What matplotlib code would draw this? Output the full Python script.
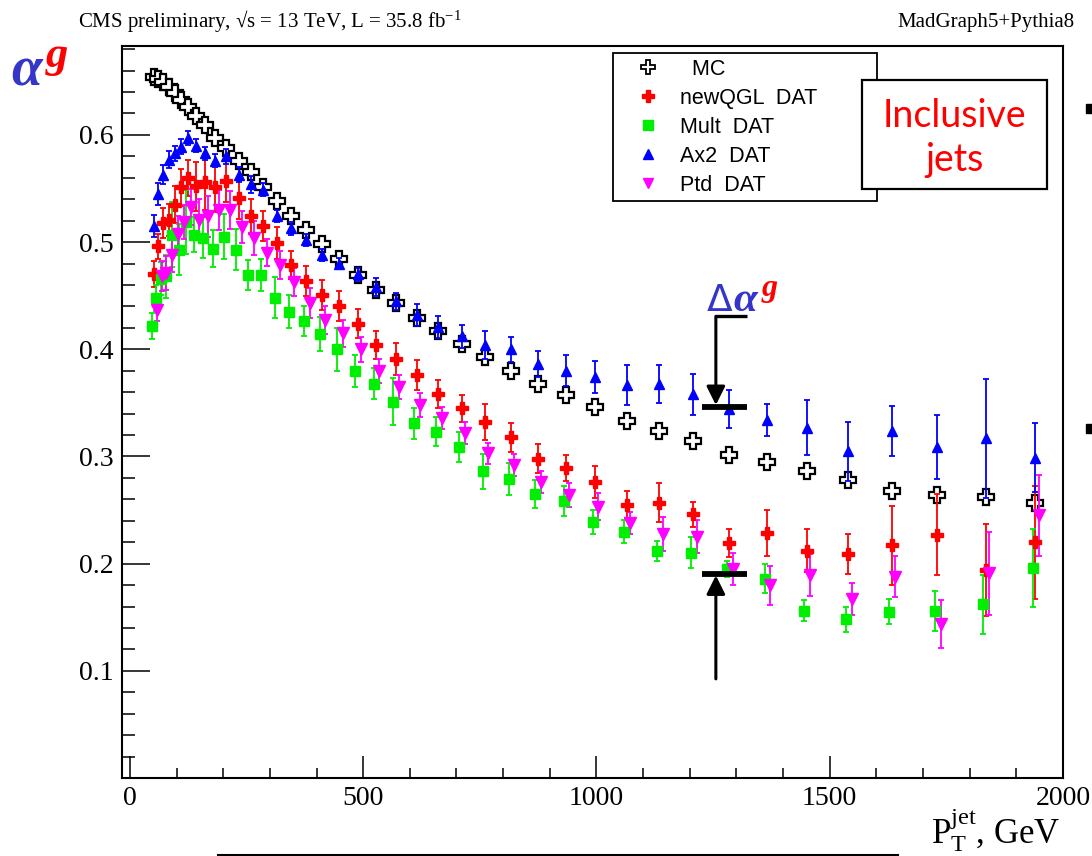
import numpy as np
import matplotlib.pyplot as plt
from matplotlib.ticker import MultipleLocator
from matplotlib.lines import Line2D
from matplotlib.patches import Rectangle

plt.rcParams['mathtext.fontset'] = 'custom'
plt.rcParams['mathtext.rm'] = 'Liberation Serif'
plt.rcParams['mathtext.it'] = 'Liberation Serif:italic'
plt.rcParams['mathtext.bf'] = 'Liberation Serif:bold'

# jet pT bin centres, GeV
pt = np.array([52, 61, 71, 83, 96, 110, 125, 142, 161, 183, 207, 233, 259, 286,
               315, 345, 378, 412, 449, 488, 528, 570, 615, 661, 711, 761, 817,
               874, 935, 997, 1065, 1135, 1208, 1285, 1366, 1451, 1540, 1633,
               1731, 1834, 1941])

mc = [0.654, 0.652, 0.649, 0.645, 0.639, 0.633, 0.626, 0.618, 0.609, 0.597,
      0.588, 0.576, 0.565, 0.551, 0.538, 0.524, 0.511, 0.498, 0.484, 0.469,
      0.455, 0.443, 0.429, 0.417, 0.405, 0.393, 0.380, 0.368, 0.357, 0.346,
      0.333, 0.324, 0.314, 0.301, 0.295, 0.286, 0.278, 0.268, 0.264, 0.262,
      0.257]

newqgl = [0.470, 0.496, 0.518, 0.521, 0.535, 0.551, 0.560, 0.552, 0.556, 0.551,
          0.557, 0.541, 0.524, 0.515, 0.499, 0.479, 0.464, 0.451, 0.440, 0.424,
          0.404, 0.391, 0.376, 0.358, 0.345, 0.332, 0.318, 0.298, 0.289, 0.276,
          0.255, 0.257, 0.246, 0.219, 0.229, 0.212, 0.209, 0.217, 0.227, 0.194,
          0.220]
newqgl_err = [0.012, 0.012, 0.014, 0.015, 0.017, 0.017, 0.017, 0.023, 0.026, 0.023,
              0.020, 0.019, 0.016, 0.014, 0.015, 0.013, 0.014, 0.014, 0.014, 0.0137,
              0.013, 0.0148, 0.0142, 0.0132, 0.0125, 0.0167, 0.0136, 0.0136, 0.0121, 0.015,
              0.0126, 0.018, 0.0117, 0.0132, 0.0215, 0.0202, 0.0187, 0.0368, 0.038, 0.0427,
              0.0527]

mult = [0.422, 0.448, 0.466, 0.468, 0.507, 0.493, 0.519, 0.507, 0.504, 0.494,
        0.505, 0.493, 0.469, 0.469, 0.448, 0.435, 0.426, 0.414, 0.400, 0.380,
        0.368, 0.351, 0.331, 0.323, 0.309, 0.286, 0.279, 0.265, 0.258, 0.239,
        0.230, 0.212, 0.210, 0.195, 0.186, 0.156, 0.148, 0.155, 0.156, 0.162,
        0.196]
mult_err = [0.012, 0.012, 0.015, 0.020, 0.030, 0.024, 0.030, 0.016, 0.019, 0.017,
            0.021, 0.019, 0.014, 0.015, 0.019, 0.0156, 0.014, 0.016, 0.020, 0.0148,
            0.0148, 0.0218, 0.0143, 0.0136, 0.014, 0.0164, 0.0145, 0.0132, 0.014, 0.0114,
            0.0104, 0.0093, 0.0145, 0.0078, 0.0136, 0.0098, 0.012, 0.0117, 0.0187, 0.0273,
            0.0366]

ax2 = [0.515, 0.545, 0.563, 0.577, 0.583, 0.589, 0.597, 0.590, 0.583, 0.576,
       0.580, 0.563, 0.554, 0.549, 0.524, 0.513, 0.502, 0.488, 0.480, 0.470,
       0.458, 0.445, 0.432, 0.421, 0.412, 0.404, 0.400, 0.386, 0.380, 0.374,
       0.367, 0.368, 0.358, 0.344, 0.334, 0.327, 0.305, 0.324, 0.309, 0.317,
       0.299]
ax2_err = [0.010, 0.010, 0.009, 0.008, 0.007, 0.007, 0.0065, 0.006, 0.006, 0.006,
           0.0067, 0.007, 0.0078, 0.006, 0.0055, 0.006, 0.006, 0.006, 0.0055, 0.0062,
           0.0081, 0.0079, 0.010, 0.0104, 0.0106, 0.0128, 0.0118, 0.0121, 0.0143, 0.0151,
           0.0188, 0.0178, 0.019, 0.0176, 0.0153, 0.026, 0.0276, 0.0234, 0.030, 0.0556,
           0.032]

ptd = [0.437, 0.468, 0.471, 0.488, 0.508, 0.519, 0.533, 0.521, 0.524, 0.530,
       0.530, 0.514, 0.504, 0.490, 0.479, 0.463, 0.443, 0.427, 0.415, 0.400,
       0.380, 0.365, 0.348, 0.336, 0.322, 0.303, 0.292, 0.276, 0.264, 0.253,
       0.238, 0.228, 0.225, 0.195, 0.180, 0.189, 0.167, 0.188, 0.144, 0.191,
       0.245]
ptd_err = [0.011, 0.014, 0.016, 0.016, 0.016, 0.016, 0.017, 0.019, 0.019, 0.019,
           0.018, 0.015, 0.016, 0.0125, 0.013, 0.013, 0.014, 0.013, 0.0125, 0.0117,
           0.011, 0.011, 0.011, 0.010, 0.010, 0.010, 0.0106, 0.0104, 0.0115, 0.0125,
           0.010, 0.0159, 0.0153, 0.0146, 0.0182, 0.0196, 0.0148, 0.0193, 0.0223, 0.0385,
           0.0374]

legend_labels = ["  MC", "newQGL  DAT", "Mult  DAT", "Ax2  DAT", "Ptd  DAT"]

RED = "#ff0000"
GREEN = "#00ee00"
BLUE = "#0000ff"
MAGENTA = "#ff00ff"
ALPHA_BLUE = "#3535c8"

fig = plt.figure(figsize=(10.92, 8.56), dpi=100)
ax = fig.add_axes([0.1117, 0.0911, 0.8617, 0.8552])

# MC: open crosses
ax.plot(pt, mc, ls="none", marker="P", ms=11, mfc="white", mec="black", mew=1.6, zorder=3)


def draw(y, err, color, marker, ms, dx):
    ax.errorbar(pt + dx, y, yerr=err, fmt=marker, color=color, ms=ms, mec=color,
                elinewidth=1.3, capsize=2.5, capthick=1.3, zorder=4)


draw(newqgl, newqgl_err, RED, "P", 8.5, 0)
draw(mult, mult_err, GREEN, "s", 7, -5)
draw(ax2, ax2_err, BLUE, "^", 7, 0)
draw(ptd, ptd_err, MAGENTA, "v", 8, 7)

ax.set_xlim(-17, 2000)
ax.set_ylim(0, 0.683)
ax.set_xticks([0, 500, 1000, 1500, 2000])
ax.set_xticklabels(["0", "500", "1000", "1500", "2000"])
ax.set_yticks([0.1, 0.2, 0.3, 0.4, 0.5, 0.6])
ax.set_yticklabels(["0.1", "0.2", "0.3", "0.4", "0.5", "0.6"])
ax.xaxis.set_minor_locator(MultipleLocator(100))
ax.yaxis.set_minor_locator(MultipleLocator(0.02))
ax.tick_params(which="both", direction="in", top=False, right=False, width=1.1)
ax.tick_params(axis="y", which="major", length=20, pad=6)
ax.tick_params(axis="y", which="minor", length=9.4)
ax.tick_params(axis="x", which="major", length=16, pad=6)
ax.tick_params(axis="x", which="minor", length=7)
for lab in ax.get_xticklabels() + ax.get_yticklabels():
    lab.set_fontfamily("Liberation Serif")
    lab.set_fontsize(20)
for sp in ax.spines.values():
    sp.set_linewidth(1.5)

# legend
handles = [
    Line2D([], [], ls="none", marker="P", ms=10, mfc="white", mec="black", mew=1.3),
    Line2D([], [], ls="none", marker="P", ms=8, color=RED),
    Line2D([], [], ls="none", marker="s", ms=7, color=GREEN),
    Line2D([], [], ls="none", marker="^", ms=7, color=BLUE),
    Line2D([], [], ls="none", marker="v", ms=7, color=MAGENTA),
]
leg = ax.legend(handles, legend_labels, loc="upper left",
                bbox_to_anchor=(0.522, 0.761, 0.28, 0.229), mode="expand",
                prop={"family": "Liberation Sans", "size": 15.5},
                frameon=True, fancybox=False, framealpha=1, edgecolor="black",
                borderpad=0.25, labelspacing=0.37, handlelength=2.7,
                handletextpad=0.15, borderaxespad=0)
leg.get_frame().set_linewidth(1.3)

# "Inclusive jets" box
ax.add_patch(Rectangle((0.7864, 0.8046), 0.1966, 0.149, transform=ax.transAxes,
                       fill=True, facecolor="white", edgecolor="black", lw=1.6, zorder=6))
ax.text(0.8847, 0.8893, "Inclusive", transform=ax.transAxes, ha="center", va="baseline",
        color=RED, fontsize=27, family="Lato", zorder=7)
ax.text(0.8847, 0.8292, "jets", transform=ax.transAxes, ha="center", va="baseline",
        color=RED, fontsize=27, family="Lato", zorder=7)

# Delta alpha^g marker
ax.plot([1256, 1323], [0.4308, 0.4308], color="black", lw=2.4, solid_capstyle="butt", zorder=6)
ax.annotate("", xy=(1256, 0.348), xytext=(1256, 0.4308),
            arrowprops=dict(arrowstyle="-|>", color="black", lw=2.2, mutation_scale=28,
                            shrinkA=0, shrinkB=0), zorder=6)
ax.plot([1226, 1323], [0.3458, 0.3458], color="black", lw=4.2, solid_capstyle="butt", zorder=6)
ax.annotate("", xy=(1256, 0.189), xytext=(1256, 0.0925),
            arrowprops=dict(arrowstyle="-|>", color="black", lw=2.2, mutation_scale=28,
                            shrinkA=0, shrinkB=0), zorder=6)
ax.plot([1226, 1323], [0.1907, 0.1907], color="black", lw=4.2, solid_capstyle="butt", zorder=6)
ax.text(1236, 0.4355, "Δ", color=ALPHA_BLUE, fontsize=27, family="DejaVu Sans",
        va="baseline", zorder=7)
ax.text(1294, 0.4355, "α", color=ALPHA_BLUE, fontsize=31, family="Liberation Serif",
        style="italic", weight="bold", va="baseline", zorder=7)
ax.text(1353, 0.4495, "g", color=RED, fontsize=23, family="Liberation Serif",
        style="italic", weight="bold", va="baseline", zorder=7)

# texts around the frame
fig.text(0.0714, 0.9685, "CMS preliminary, √s = 13 TeV, L = 35.8 fb$^{-1}$",
         family="Liberation Serif", fontsize=15, va="baseline")
fig.text(0.9844, 0.9685, "MadGraph5+Pythia8", family="Liberation Serif", fontsize=15,
         va="baseline", ha="right")
fig.text(0.010, 1 - 85 / 856, "α", color=ALPHA_BLUE, fontsize=40, family="Liberation Serif",
         style="italic", weight="bold", va="baseline")
fig.text(0.042, 1 - 67 / 856, "g", color=RED, fontsize=32, family="Liberation Serif",
         style="italic", weight="bold", va="baseline")
fig.text(1060 / 1092, 1 - 843 / 856, r"$\mathrm{P}_\mathrm{T}^\mathrm{jet}$, GeV",
         family="Liberation Serif", fontsize=25, ha="right", va="baseline")

# slide decorations
fig.add_artist(Line2D([218 / 1092, 898 / 1092], [1 - 855 / 856] * 2, color="black", lw=1.5))
fig.add_artist(Rectangle((1086 / 1092, 1 - 113 / 856), 6 / 1092, 9 / 856,
                         transform=fig.transFigure, color="black"))
fig.add_artist(Rectangle((1086 / 1092, 1 - 433 / 856), 6 / 1092, 9 / 856,
                         transform=fig.transFigure, color="black"))

fig.savefig("out.png", dpi=100)
